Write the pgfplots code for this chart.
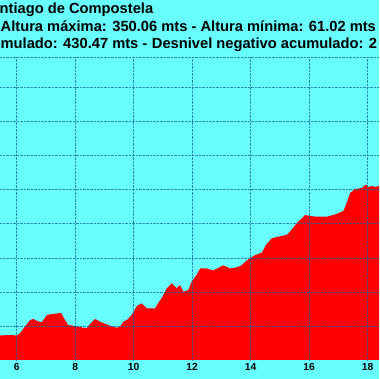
\documentclass[border=0pt]{standalone}
\usepackage{pgfplots}
\pgfplotsset{compat=1.18}
\usepackage{fontspec}
\setmainfont{Liberation Sans}
\definecolor{bgc}{RGB}{104,255,255}
\definecolor{gridc}{RGB}{20,100,165}
\begin{document}
\begin{tikzpicture}
\useasboundingbox (0,0) rectangle (379pt,379pt);
\clip (0,0) rectangle (379pt,379pt);
\fill[bgc] (0,0) rectangle (379pt,379pt);
\node[inner sep=0pt, anchor=base west, font=\fontsize{14.7}{17}\selectfont\bfseries] at (0.5pt,347.3pt) {\raisebox{18.2pt}[0pt][0pt]{\makebox[0pt][r]{Santiago de Compostela\hspace*{-152.5pt}}}Altura máxima: 350.06 mts - Altura mínima: 61.02 mts};
\node[inner sep=0pt, anchor=base east, font=\fontsize{14.7}{17}\selectfont\bfseries] at (147.6pt,330pt) {Desnivel positivo acumulado: 430.47 mts -};
\node[inner sep=0pt, anchor=base west, font=\fontsize{14.7}{17}\selectfont\bfseries] at (151.7pt,330pt) {Desnivel negativo acumulado: 2};
\begin{axis}[
  at={(-12.55pt,19pt)}, anchor=south west,
  scale only axis, width=409.5pt, height=302.9pt,
  xmin=5, xmax=19, ymin=50, ymax=494.5,
  axis line style={draw=none},
  axis on top=true,
  xtick={6,8,10,12,14,16,18},
  ytick={100,150,200,250,300,350,400,450,494.5},
  yticklabels={},
  major tick length=0pt,
  grid=major,
  major grid style={gridc, densely dotted, line width=0.5pt, opacity=0.75},
  /pgf/number format/assume math mode=true,
  ticklabel style={font=\fontsize{10.3}{12}\selectfont\bfseries},
  xticklabel style={anchor=base, yshift=-10pt},
]
\addplot[fill=red, draw=none] table {
4.92 85.2
5.43 86.0
5.77 86.7
6.01 86.0
6.11 89.2
6.28 98.9
6.46 108.7
6.57 110.2
6.69 107.2
6.86 105.3
7.03 116.0
7.21 117.5
7.42 118.5
7.52 119.0
7.62 110.9
7.76 101.4
7.99 99.9
8.16 98.4
8.39 96.5
8.51 102.8
8.68 110.2
8.85 106.2
9.08 102.1
9.26 99.2
9.42 97.4
9.53 98.9
9.65 106.2
9.77 108.7
9.93 116.0
10.05 124.8
10.11 129.3
10.27 133.2
10.45 125.9
10.59 125.6
10.73 125.9
10.84 133.7
10.96 141.0
11.13 155.2
11.30 162.6
11.47 155.2
11.58 160.1
11.70 150.2
11.87 152.7
11.98 164.9
12.15 174.7
12.27 184.3
12.50 184.3
12.72 181.4
12.89 185.0
13.06 189.0
13.29 184.3
13.52 186.0
13.69 189.0
13.86 196.0
13.98 199.3
14.15 204.1
14.38 207.5
14.52 218.8
14.72 228.6
14.94 231.0
15.23 233.5
15.34 238.3
15.57 250.6
15.86 262.8
16.03 261.3
16.26 260.3
16.60 260.3
16.94 264.3
17.17 268.7
17.28 280.4
17.40 295.1
17.57 301.0
17.80 302.4
17.94 307.6
18.02 303.9
18.14 305.4
18.25 303.9
18.39 305.4
18.93 305.4
} \closedcycle;
\end{axis}
\end{tikzpicture}
\end{document}
